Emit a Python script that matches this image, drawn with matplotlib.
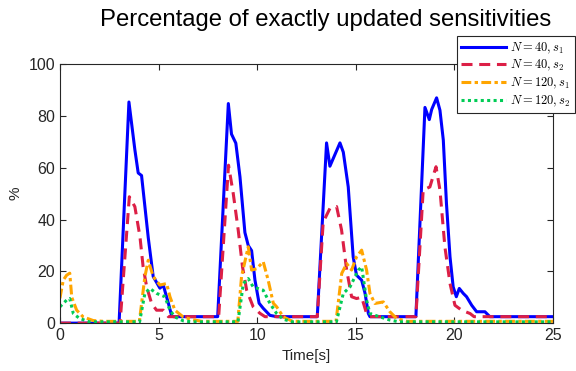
import numpy as np
import matplotlib
matplotlib.use('Agg')
import matplotlib.pyplot as plt

plt.rcParams['mathtext.fontset'] = 'cm'
plt.rcParams['font.family'] = ['Liberation Sans', 'DejaVu Sans']

# N=40, s1
t_a = [0, 3.0, 3.5, 3.8, 3.97, 4.14, 4.48, 4.73, 5.07, 5.24, 5.5, 5.66, 5.75, 8.0,
       8.54, 8.7, 8.92, 9.13, 9.38, 9.55, 9.72, 9.89, 10.1, 10.3, 10.65, 11.0, 13.05,
       13.52, 13.69, 14.2, 14.37, 14.62, 14.87, 15.04, 15.3, 15.47, 15.64, 15.72, 18.05,
       18.51, 18.73, 18.85, 19.1, 19.27, 19.44, 19.6, 19.78, 19.94, 20.1, 20.25, 20.45,
       20.62, 20.88, 21.13, 21.55, 21.8, 25]
v_a = [0, 0, 85.4, 67, 58, 57, 33, 18, 13.5, 14.7, 7.7, 3, 2.5, 2.5,
       84.8, 73, 69.5, 56.5, 35, 30, 28, 16.6, 7.7, 5.8, 3, 2.5, 2.5,
       69.6, 60.6, 69.6, 66, 52.6, 25.6, 18.5, 16.6, 11.6, 3.7, 2.5, 2.5,
       83.3, 78.6, 82.5, 87, 82.2, 70.7, 46.2, 25.6, 14, 10.2, 13.4, 11.5,
       10.2, 6.9, 4.4, 4.4, 2.5, 2.5]

# N=40, s2
t_b = [0, 3.05, 3.52, 3.8, 4.06, 4.22, 4.4, 4.65, 4.9, 5.24, 5.5, 8.05,
       8.55, 8.79, 9.04, 9.26, 9.47, 9.8, 10.14, 10.4, 13.05,
       13.35, 13.69, 14.03, 14.28, 14.54, 14.79, 15.04, 15.3, 15.55, 15.7, 18.05,
       18.42, 18.76, 19.07, 19.27, 19.52, 19.78, 20.03, 20.37, 20.8, 21.0, 25]
v_b = [0, 0, 48.8, 45, 33.3, 21.7, 14, 7.6, 5, 5, 2.5, 2.5,
       61, 50, 36, 21.7, 12.7, 6.3, 3.8, 2.5, 2.5,
       39, 44.3, 45, 36, 20.5, 10.2, 9.5, 10, 3.7, 2.5, 2.5,
       51.4, 52.6, 60.4, 51.4, 29.5, 15.3, 6.9, 5, 3.7, 2.5, 2.5]

# N=120, s1
t_c = [0, 0.17, 0.34, 0.5, 0.6, 0.85, 1.18, 1.69, 2.2, 4.03,
       4.31, 4.48, 4.73, 5.07, 5.41, 5.58, 5.83, 6.25, 6.68, 7.2, 9.02,
       9.21, 9.55, 9.72, 9.97, 10.31, 10.56, 10.82, 10.99, 11.33, 11.8, 14.0,
       14.29, 14.54, 14.79, 15.04, 15.3, 15.55, 15.72, 15.97, 16.4, 16.73, 17.07, 17.6, 25]
v_c = [9.6, 16.6, 18.5, 19.3, 10, 5, 2.4, 1, 0.7, 0.7,
       18, 24.3, 18, 14.7, 15.3, 10.2, 5, 2.4, 1.4, 0.7, 0.7,
       18, 29.5, 20.5, 21, 23.7, 16.6, 7.7, 6.3, 2.4, 0.7, 0.7,
       19.2, 23, 20.5, 25.6, 28.2, 20.5, 11.5, 7.6, 8.2, 4.4, 1.8, 0.7, 0.7]

# N=120, s2
t_d = [0, 0.34, 0.5, 0.68, 1.0, 1.5, 4.04,
       4.31, 4.56, 4.9, 5.32, 5.58, 5.83, 6.25, 6.7, 9.03,
       9.3, 9.55, 9.8, 10.31, 10.65, 10.99, 11.33, 11.8, 14.02,
       14.37, 14.71, 15.13, 15.3, 15.55, 15.72, 16.23, 16.73, 17.2, 25]
v_d = [6.3, 8.9, 9.5, 3.7, 1.8, 0.5, 0.5,
       11.5, 13.4, 11.5, 10.2, 5, 2.4, 0.9, 0.5, 0.5,
       15.3, 17.2, 14, 12.7, 7.6, 3.7, 1.5, 0.5, 0.5,
       11.5, 14, 20.5, 21.7, 8.9, 3.7, 2.4, 1.2, 0.5, 0.5]

labels = [r'$N=40, s_1$', r'$N=40, s_2$', r'$N=120, s_1$', r'$N=120, s_2$']

fig = plt.figure(figsize=(5.76, 3.71), dpi=100)
ax = fig.add_axes([0.104, 0.129, 0.856, 0.698])

ax.plot(t_a, v_a, color='#0000ff', lw=2.2, ls='-', label=labels[0])
ax.plot(t_b, v_b, color='#dc1f46', lw=2.2, ls=(0, (3.6, 2.2)), label=labels[1])
ax.plot(t_c, v_c, color='#ffa500', lw=2.2, ls=(0, (3.2, 1.1, 1.1, 1.1)), label=labels[2])
ax.plot(t_d, v_d, color='#00cc55', lw=2.2, ls=(0, (1, 1.1)), label=labels[3])

ax.set_xlim(0, 25)
ax.set_ylim(0, 100)
ax.set_xticks([0, 5, 10, 15, 20, 25])
ax.set_yticks([0, 20, 40, 60, 80, 100])
ax.tick_params(direction='in', top=True, right=True, labelsize=11.5,
               colors='#262626', length=4, width=0.8)
for s in ax.spines.values():
    s.set_color('#262626')
    s.set_linewidth(0.8)
ax.set_xlabel('Time[s]', fontsize=11, color='#262626', labelpad=4)
ax.set_ylabel('%', fontsize=11, color='#262626', labelpad=4)

fig.suptitle('Percentage of exactly updated sensitivities', fontsize=17.2,
             x=0.565, y=0.975, va='top')

leg = fig.legend(loc='upper right', bbox_to_anchor=(0.998, 0.903), fontsize=9,
                 handlelength=3.6, handletextpad=0.3, borderpad=0.35,
                 labelspacing=0.2, borderaxespad=0, fancybox=False, framealpha=1,
                 edgecolor='#262626')
leg.get_frame().set_linewidth(0.8)

fig.savefig('out.png', dpi=100)
